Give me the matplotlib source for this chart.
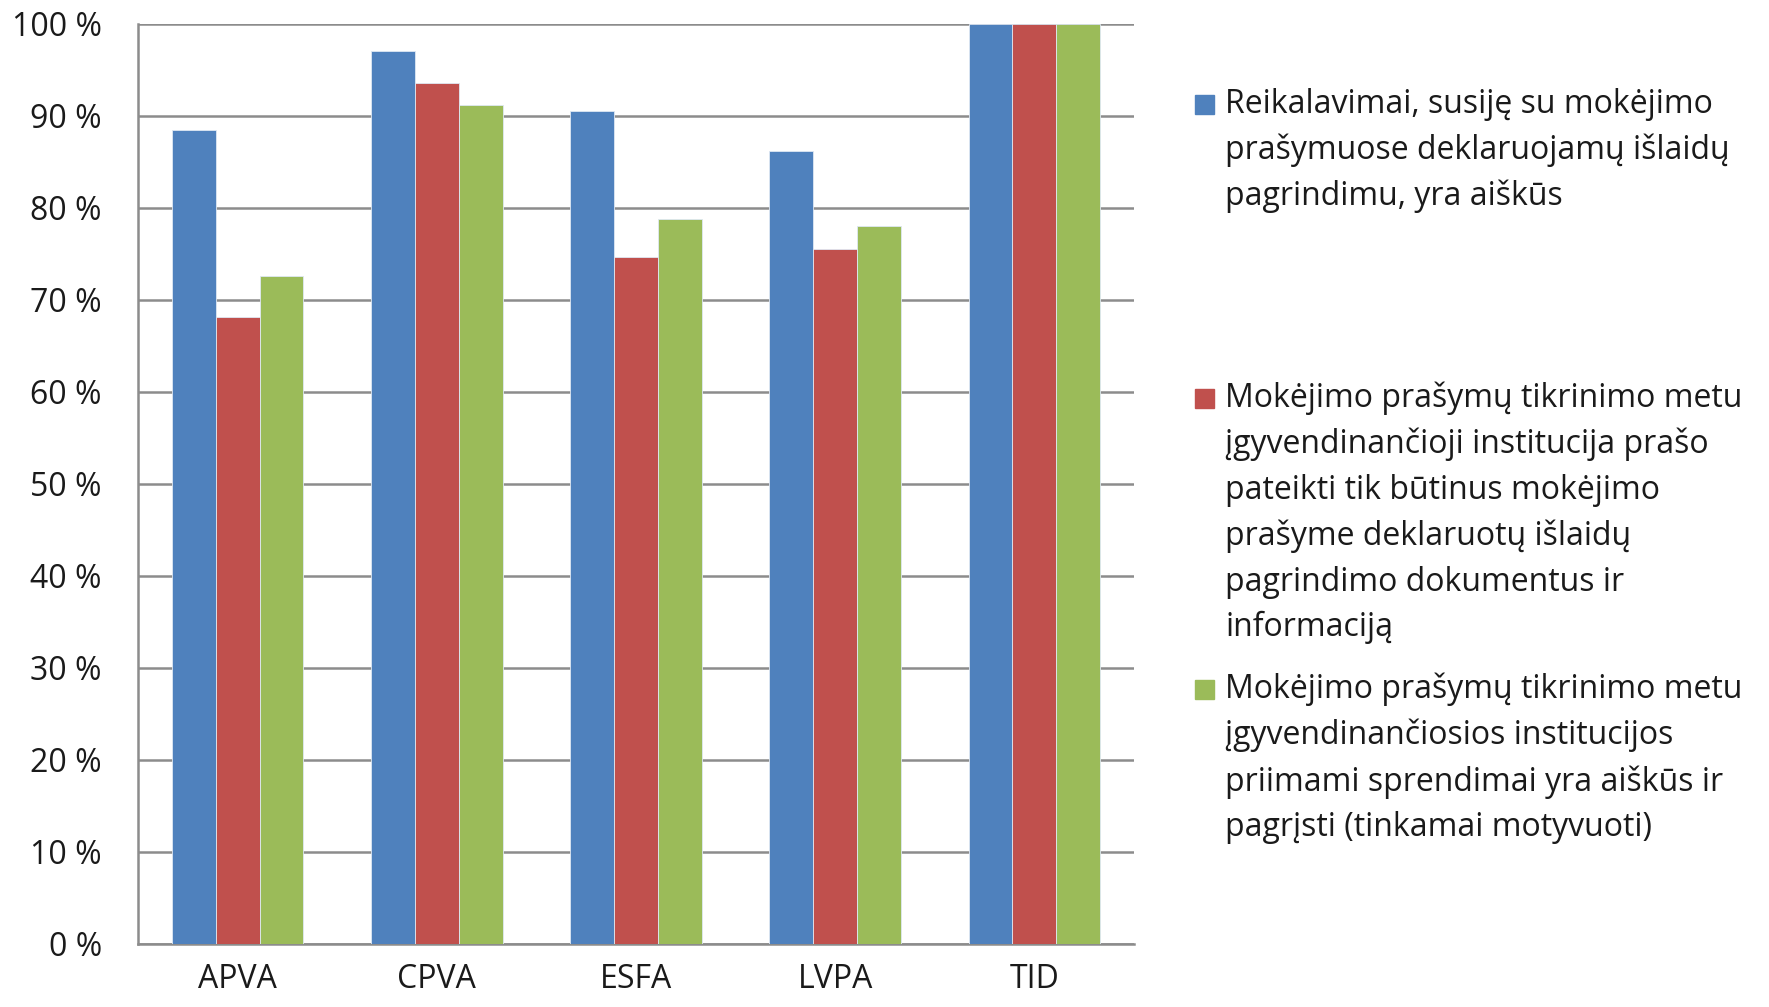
import numpy as np
import matplotlib
matplotlib.use("Agg")
import matplotlib.pyplot as plt
from matplotlib.patches import Rectangle

plt.rcParams['font.family'] = ['Open Sans', 'DejaVu Sans']

agencies = ["APVA", "CPVA", "ESFA", "LVPA", "TID"]
s_aiskus = [88.5, 97.1, 90.5, 86.2, 100.0]
s_praso = [68.1, 93.6, 74.7, 75.5, 100.0]
s_sprendimai = [72.6, 91.2, 78.8, 78.0, 100.0]
labels = [
    "Reikalavimai, susiję su mokėjimo\nprašymuose deklaruojamų išlaidų\npagrindimu, yra aiškūs",
    "Mokėjimo prašymų tikrinimo metu\nįgyvendinančioji institucija prašo\npateikti tik būtinus mokėjimo\nprašyme deklaruotų išlaidų\npagrindimo dokumentus ir\ninformaciją",
    "Mokėjimo prašymų tikrinimo metu\nįgyvendinančiosios institucijos\npriimami sprendimai yra aiškūs ir\npagrįsti (tinkamai motyvuoti)",
]
yticks = [0, 10, 20, 30, 40, 50, 60, 70, 80, 90, 100]

colors = ["#4F81BD", "#C0504D", "#9BBB59"]
series = [s_aiskus, s_praso, s_sprendimai]

W, H = 1769, 1007
fig = plt.figure(figsize=(W / 100, H / 100), dpi=100)
ax = fig.add_axes([138 / W, 1 - 944 / H, (1134 - 138) / W, (944 - 24) / H])

x = np.arange(len(agencies))
w = 0.22
for i, (vals, c) in enumerate(zip(series, colors)):
    ax.bar(x + (i - 1) * w, vals, width=w, color=c, edgecolor="#dfe8f3", linewidth=0.6, zorder=3)

ax.set_xlim(-0.5, len(agencies) - 0.5)
ax.set_ylim(0, 100)
ax.set_yticks(yticks)
ax.set_yticklabels([f"{t} %" for t in yticks])
ax.set_xticks(x)
ax.set_xticklabels(agencies)
ax.yaxis.grid(True, color="#8c8c8c", linewidth=1.8, zorder=0)
ax.set_axisbelow(True)
for s in ["top", "right"]:
    ax.spines[s].set_visible(False)
for s in ["left", "bottom"]:
    ax.spines[s].set_color("#8c8c8c")
    ax.spines[s].set_linewidth(1.8)
ax.tick_params(axis="both", length=0, labelsize=23, colors="#1a1a1a")
ax.tick_params(axis="y", pad=26)
ax.tick_params(axis="x", pad=14)

# legend, placed by hand like the Excel original (first-line baselines in px)
first_base = [114, 408, 699]
line_px = 45.7
for lab, c, yb in zip(labels, colors, first_base):
    n = lab.count("\n")
    fig.text(1225 / W, 1 - (yb + n * line_px) / H, lab, fontsize=23, va="baseline",
             ha="left", color="#1a1a1a", linespacing=1.5)
    fig.patches.append(Rectangle((1195 / W, 1 - yb / H), 19 / W, 19 / H,
                                 transform=fig.transFigure, color=c, figure=fig))

fig.savefig("out.png", dpi=100)
